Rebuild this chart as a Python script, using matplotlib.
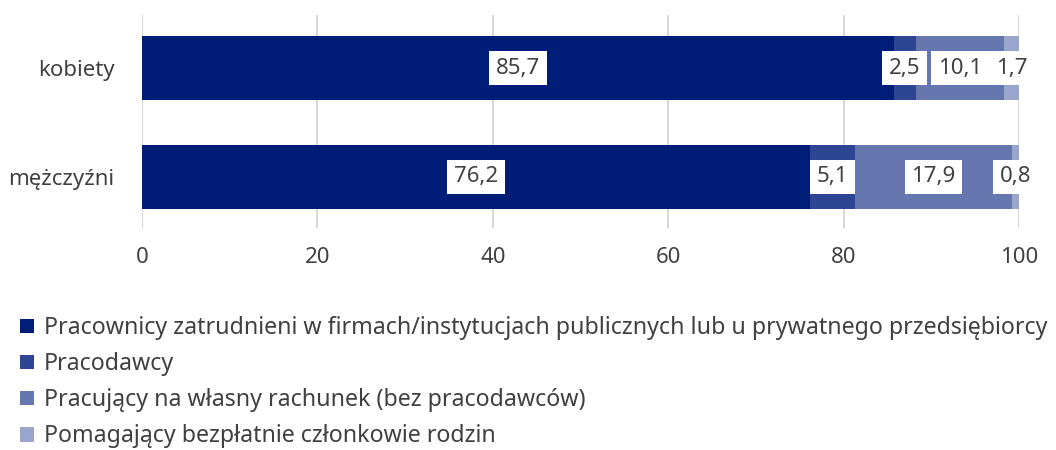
import matplotlib

matplotlib.use("Agg")
import matplotlib.pyplot as plt
from matplotlib.patches import Patch

plt.rcParams["font.family"] = ["Noto Sans", "DejaVu Sans"]

categories = ["mężczyźni", "kobiety"]
series_names = [
    "Pracownicy zatrudnieni w firmach/instytucjach publicznych lub u prywatnego przedsiębiorcy",
    "Pracodawcy",
    "Pracujący na własny rachunek (bez pracodawców)",
    "Pomagający bezpłatnie członkowie rodzin",
]
values = [
    [76.2, 85.7],
    [5.1, 2.5],
    [17.9, 10.1],
    [0.8, 1.7],
]
colors = ["#001D77", "#2E4593", "#6677AF", "#99A5CB"]
x_ticks = [0, 20, 40, 60, 80, 100]

TEXT = "#404040"
FS = 16

fig = plt.figure(figsize=(10.56, 4.5), dpi=100)
ax = fig.add_axes([0.1345, 0.4933, 0.8305, 0.4734])

ypos = list(range(len(categories)))
left = [0.0] * len(categories)
for vals, color in zip(values, colors):
    ax.barh(ypos, vals, left=left, height=0.59, color=color, zorder=2)
    for i, v in enumerate(vals):
        label = f"{v:.1f}".replace(".", ",")
        ax.text(
            left[i] + v / 2, ypos[i], label,
            ha="center", va="center", fontsize=FS, color=TEXT, zorder=4,
            bbox=dict(boxstyle="square,pad=0.3", facecolor="white", edgecolor="none"),
        )
    left = [l + v for l, v in zip(left, vals)]

ax.set_xlim(0, 100)
ax.set_ylim(-0.47, 1.49)
ax.set_xticks(x_ticks)
ax.set_yticks(ypos)
ax.set_yticklabels(categories)
ax.tick_params(axis="both", length=0, labelsize=FS, colors=TEXT)
ax.tick_params(axis="x", pad=14)
ax.tick_params(axis="y", pad=20)
ax.grid(axis="x", color="#D9D9D9", linewidth=1.5, zorder=0)
for spine in ax.spines.values():
    spine.set_visible(False)

handles = [Patch(facecolor=c, edgecolor="none") for c in colors]
fig.legend(
    handles, series_names,
    loc="upper left", bbox_to_anchor=(0.01, 0.318),
    frameon=False, fontsize=16.7, labelcolor=TEXT,
    handlelength=0.6, handleheight=0.6, handletextpad=0.45,
    labelspacing=0.52, borderaxespad=0,
)

fig.savefig("out.png", dpi=100)
